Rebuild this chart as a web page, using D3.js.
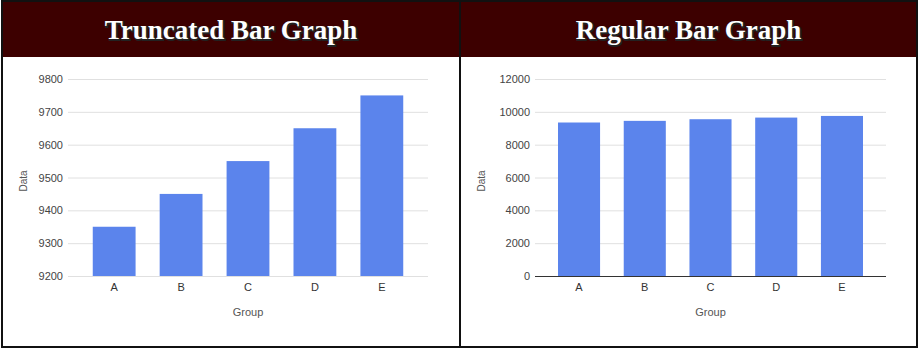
<!DOCTYPE html>
<html>
<head>
<meta charset="utf-8">
<script src="https://cdn.jsdelivr.net/npm/d3@7"></script>
<style>
  body { margin: 0; background: #fff; }
  svg text { font-family: "Liberation Sans", Arial, sans-serif; }
</style>
</head>
<body>
<script>
var w = 920;
var h = 351;

// data
var groups = ["A", "B", "C", "D", "E"];
var truncatedValues = [9350, 9450, 9550, 9650, 9750];
var regularValues = [9350, 9450, 9550, 9650, 9750];
var truncatedTicks = [9200, 9300, 9400, 9500, 9600, 9700, 9800];
var regularTicks = [0, 2000, 4000, 6000, 8000, 10000, 12000];
var titles = ["Truncated Bar Graph", "Regular Bar Graph"];

var svg = d3.select("body")
            .append("svg")
            .attr("width", w)
            .attr("height", h);

// panels (border + header)
var panels = [
  {x: 2, width: 458, left: 68, right: 428, domain: [9200, 9800], ticks: truncatedTicks, values: truncatedValues, po: 0.37, baseColor: "#e0e0e0", title: titles[0]},
  {x: 460, width: 457, left: 535, right: 886, domain: [0, 12000], ticks: regularTicks, values: regularValues, po: 0.35, baseColor: "#333", title: titles[1]}
];

var plotTop = 79, plotBottom = 276;

panels.forEach(function(p) {
  svg.append("rect")
     .attr("x", p.x).attr("y", 1)
     .attr("width", p.width).attr("height", 346)
     .attr("fill", "#fff")
     .attr("stroke", "#111")
     .attr("stroke-width", 2);

  svg.append("rect")
     .attr("x", p.x + 1).attr("y", 2)
     .attr("width", p.width - 2).attr("height", 55)
     .attr("fill", "#3d0000");

  var cx = p.x + p.width / 2;
  // title shadow then title
  svg.append("text")
     .attr("x", cx + 1).attr("y", 40)
     .attr("text-anchor", "middle")
     .style("font-family", "'Liberation Serif', 'Times New Roman', serif")
     .style("font-weight", "bold")
     .style("font-size", "27px")
     .attr("fill", "#000")
     .attr("stroke", "#222")
     .attr("stroke-width", 2)
     .text(p.title);
  svg.append("text")
     .attr("x", cx).attr("y", 39)
     .attr("text-anchor", "middle")
     .style("font-family", "'Liberation Serif', 'Times New Roman', serif")
     .style("font-weight", "bold")
     .style("font-size", "27px")
     .attr("fill", "#fff")
     .text(p.title);

  var xScale = d3.scaleBand()
                 .domain(groups)
                 .range([p.left, p.right])
                 .paddingInner(0.36)
                 .paddingOuter(p.po);

  var yScale = d3.scaleLinear()
                 .domain(p.domain)
                 .range([plotBottom, plotTop]);

  var yAxis = d3.axisLeft(yScale)
                .tickValues(p.ticks)
                .tickSize(-(p.right - p.left))
                .tickPadding(5)
                .tickFormat(d3.format("d"));

  var gy = svg.append("g")
              .attr("transform", "translate(" + p.left + ",0)")
              .call(yAxis);
  gy.select(".domain").remove();
  gy.selectAll("line").attr("stroke", "#e0e0e0");
  gy.selectAll("text").attr("fill", "#444").style("font-size", "11px");

  svg.append("g")
     .selectAll("rect")
     .data(p.values)
     .enter()
     .append("rect")
     .attr("x", function(d, i) { return xScale(groups[i]); })
     .attr("y", function(d) { return yScale(d); })
     .attr("width", xScale.bandwidth())
     .attr("height", function(d) { return plotBottom - yScale(d); })
     .attr("fill", "#5b84ec");

  svg.append("line")
     .attr("x1", p.left).attr("x2", p.right)
     .attr("y1", plotBottom + 0.5).attr("y2", plotBottom + 0.5)
     .attr("stroke", p.baseColor);

  var xAxis = d3.axisBottom(xScale)
                .tickSize(0)
                .tickPadding(7);
  var gx = svg.append("g")
              .attr("transform", "translate(0," + plotBottom + ")")
              .call(xAxis);
  gx.select(".domain").remove();
  gx.selectAll("text").attr("fill", "#333").style("font-size", "11px");

  svg.append("text")
     .attr("x", (p.left + p.right) / 2)
     .attr("y", 316)
     .attr("text-anchor", "middle")
     .attr("fill", "#555")
     .style("font-size", "11px")
     .text("Group");

  svg.append("text")
     .attr("transform", "translate(" + (p.x + 25) + ",181) rotate(-90)")
     .attr("text-anchor", "middle")
     .attr("fill", "#555")
     .style("font-size", "10px")
     .text("Data");
});
</script>
</body>
</html>
